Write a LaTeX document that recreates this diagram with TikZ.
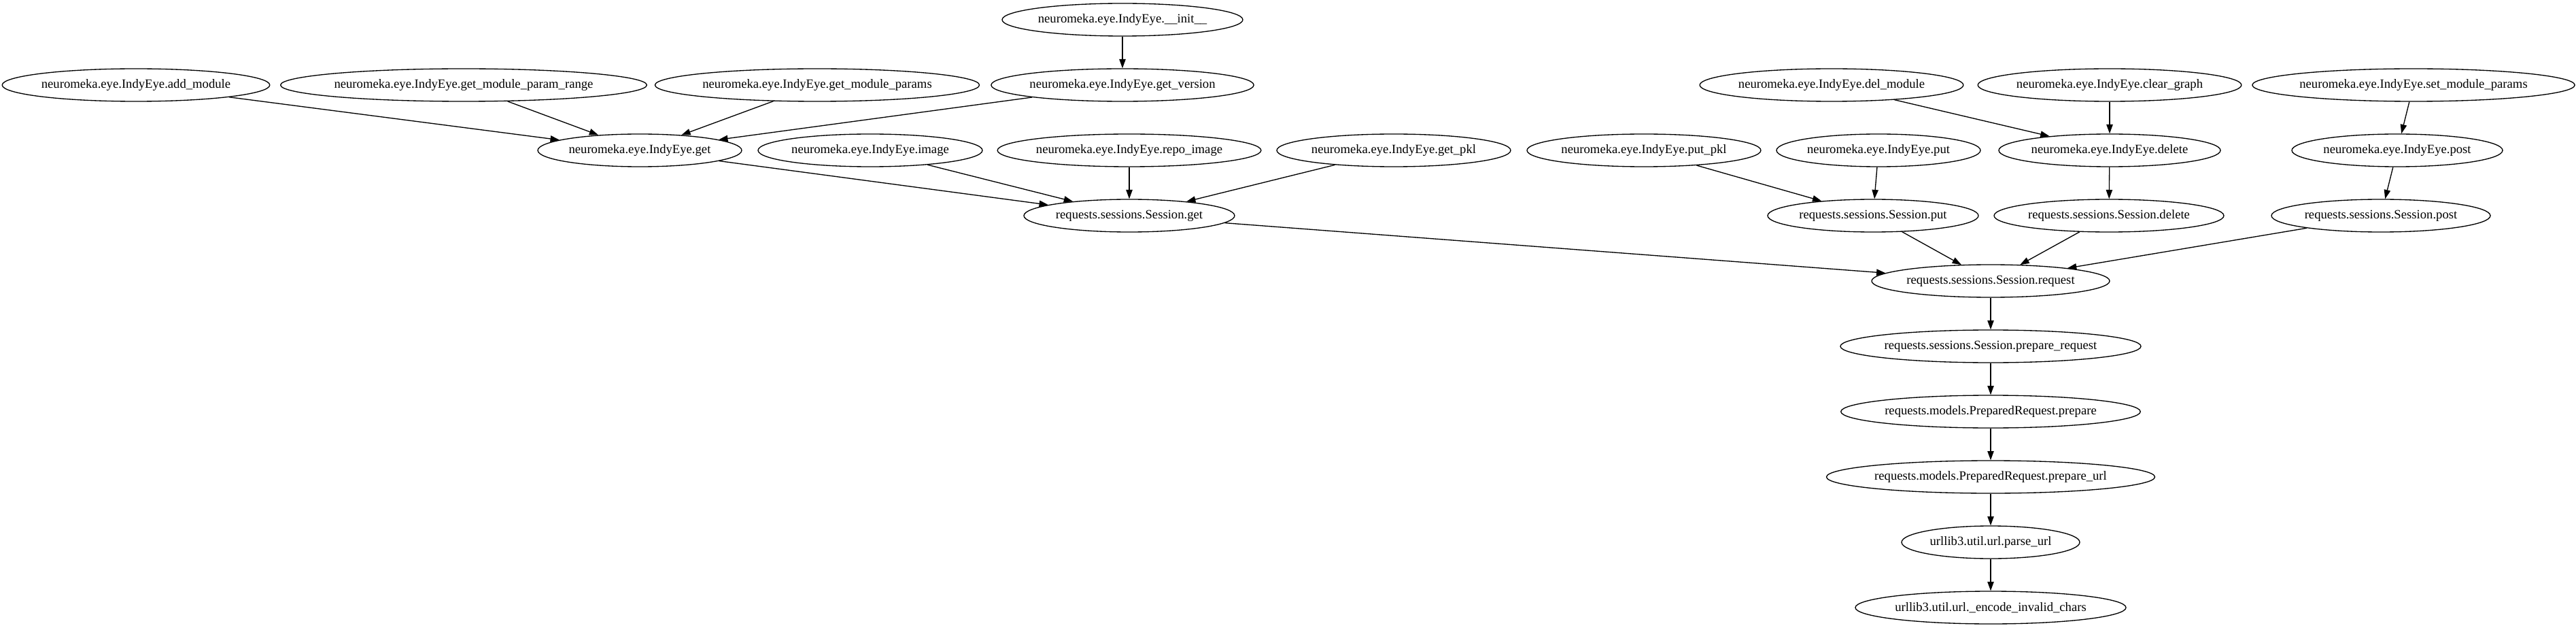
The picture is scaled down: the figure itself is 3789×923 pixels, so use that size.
\documentclass[tikz,border=0pt]{standalone}
\usepackage{fontspec}
\setmainfont{Liberation Serif}
\usetikzlibrary{shapes.geometric,arrows.meta}
\tikzset{
  gnode/.style={draw, ellipse, line width=1pt, inner sep=0pt, minimum height=36pt, font=\fontsize{14pt}{16pt}\selectfont},
  edge/.style={draw, line width=1pt, -{Triangle[length=10pt,width=7pt]}}
}
\newcommand\gn[5]{\node[gnode, minimum width=#4pt] (#1) at (#2,#3) {#5};}
\begin{document}
\begin{tikzpicture}[x=0.75pt,y=-0.75pt]
\useasboundingbox (0,0) rectangle (3789,923);
\gn{init}{1651}{29}{265.5}{neuromeka.eye.IndyEye.\_\_init\_\_}
\gn{add}{200}{125}{294}{neuromeka.eye.IndyEye.add\_module}
\gn{gmpr}{682}{125}{391.5}{neuromeka.eye.IndyEye.get\_module\_param\_range}
\gn{gmp}{1202}{125}{351}{neuromeka.eye.IndyEye.get\_module\_params}
\gn{gver}{1651}{125}{288}{neuromeka.eye.IndyEye.get\_version}
\gn{delm}{2694}{125}{288}{neuromeka.eye.IndyEye.del\_module}
\gn{clrg}{3103}{125}{288}{neuromeka.eye.IndyEye.clear\_graph}
\gn{smp}{3550}{125}{348}{neuromeka.eye.IndyEye.set\_module\_params}
\gn{iget}{941}{221}{225}{neuromeka.eye.IndyEye.get}
\gn{image}{1280}{221}{247.5}{neuromeka.eye.IndyEye.image}
\gn{repo}{1661}{221}{288}{neuromeka.eye.IndyEye.repo\_image}
\gn{gpkl}{2050}{221}{258}{neuromeka.eye.IndyEye.get\_pkl}
\gn{ppkl}{2418}{221}{258}{neuromeka.eye.IndyEye.put\_pkl}
\gn{iput}{2763}{221}{225}{neuromeka.eye.IndyEye.put}
\gn{idel}{3103}{221}{244.5}{neuromeka.eye.IndyEye.delete}
\gn{ipost}{3526}{221}{232.5}{neuromeka.eye.IndyEye.post}
\gn{sget}{1661}{317}{232.5}{requests.sessions.Session.get}
\gn{sput}{2755}{317}{232.5}{requests.sessions.Session.put}
\gn{sdel}{3102}{317}{253.5}{requests.sessions.Session.delete}
\gn{spost}{3502}{317}{241.5}{requests.sessions.Session.post}
\gn{sreq}{2928}{413}{262.5}{requests.sessions.Session.request}
\gn{prq}{2928}{509}{327}{requests.sessions.Session.prepare\_request}
\gn{prep}{2928}{605}{325.5}{requests.models.PreparedRequest.prepare}
\gn{purl}{2928}{701}{355.5}{requests.models.PreparedRequest.prepare\_url}
\gn{parse}{2928}{797}{196.5}{urllib3.util.url.parse\_url}
\gn{enc}{2928}{893}{297}{urllib3.util.url.\_encode\_invalid\_chars}
\draw[edge] (init) -- (gver);
\draw[edge] (add) -- (iget);
\draw[edge] (gmpr) -- (iget);
\draw[edge] (gmp) -- (iget);
\draw[edge] (gver) -- (iget);
\draw[edge] (iget) -- (sget);
\draw[edge] (image) -- (sget);
\draw[edge] (repo) -- (sget);
\draw[edge] (gpkl) -- (sget);
\draw[edge] (sget) -- (sreq);
\draw[edge] (delm) -- (idel);
\draw[edge] (clrg) -- (idel);
\draw[edge] (smp) -- (ipost);
\draw[edge] (ppkl) -- (sput);
\draw[edge] (iput) -- (sput);
\draw[edge] (idel) -- (sdel);
\draw[edge] (ipost) -- (spost);
\draw[edge] (sput) -- (sreq);
\draw[edge] (sdel) -- (sreq);
\draw[edge] (spost) -- (sreq);
\draw[edge] (sreq) -- (prq);
\draw[edge] (prq) -- (prep);
\draw[edge] (prep) -- (purl);
\draw[edge] (purl) -- (parse);
\draw[edge] (parse) -- (enc);
\end{tikzpicture}
\end{document}
